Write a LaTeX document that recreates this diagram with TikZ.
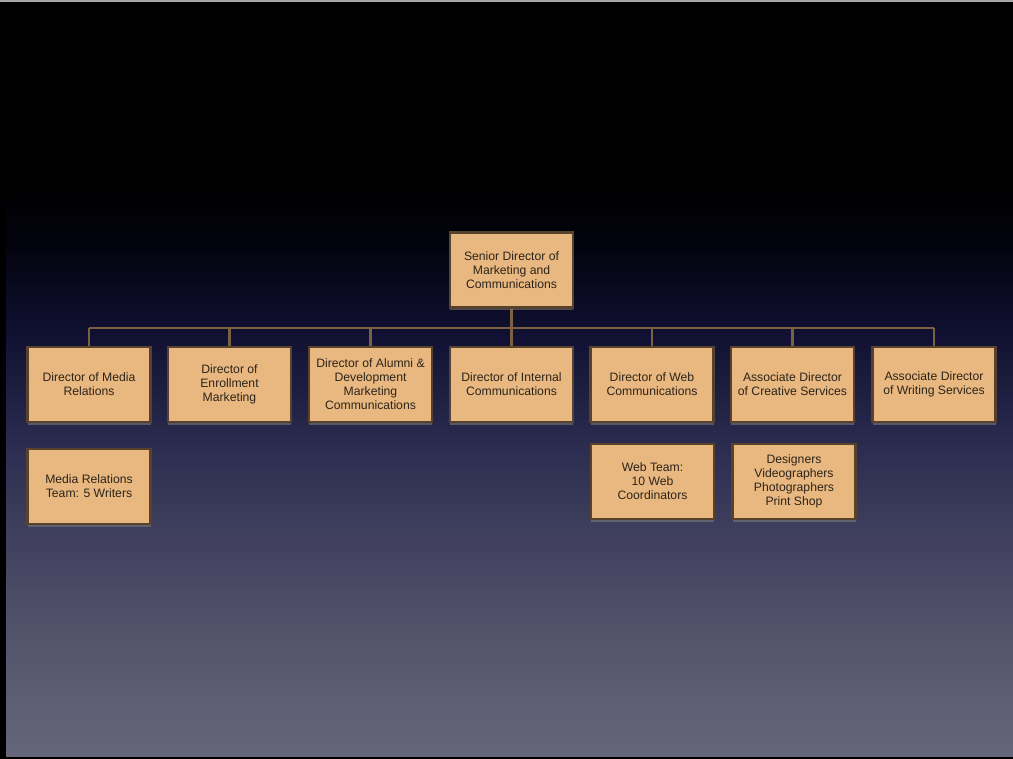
\documentclass[tikz,border=0pt]{standalone}
\usepackage{fontspec}
\setmainfont{Liberation Sans}
\usetikzlibrary{shadows}
\definecolor{boxfill}{RGB}{232,184,128}
\definecolor{boxline}{RGB}{88,66,44}
\definecolor{conn}{RGB}{122,98,64}
\definecolor{txt}{RGB}{45,36,26}
\definecolor{bgA}{RGB}{102,102,122}
\definecolor{bgB}{RGB}{78,78,104}
\definecolor{bgC}{RGB}{46,46,82}
\definecolor{bgD}{RGB}{16,16,50}
\definecolor{bgE}{RGB}{3,3,14}
\pgfdeclareverticalshading{slidebg}{100bp}{color(0bp)=(bgA); color(25bp)=(bgA); color(35bp)=(bgB); color(45bp)=(bgC); color(53bp)=(bgD); color(59bp)=(bgE); color(63bp)=(black); color(100bp)=(black)}
\pgfdeclarelayer{back}
\pgfdeclarelayer{lines}
\pgfsetlayers{back,lines,main}
\tikzset{
  orgbox/.style={draw=boxline, line width=2.4pt, fill=boxfill, text=txt,
    minimum width=123pt, minimum height=75pt, inner sep=2pt, align=center,
    font=\fontsize{12.2}{14}\selectfont,
    drop shadow={opacity=0.55, shadow xshift=0pt, shadow yshift=-3pt}},
  connector/.style={draw=conn, line width=2.8pt}
}
\begin{document}
\begin{tikzpicture}[x=1pt,y=-1pt]
\begin{pgfonlayer}{back}
\fill[black] (0,0) rectangle (1013,759);
\shade[shading=slidebg] (6,2) rectangle (1013,756);
\fill[gray!70] (0,0) rectangle (1013,1.6);
\end{pgfonlayer}
\useasboundingbox (0,0) rectangle (1013,759);

\node[orgbox] (sen) at (511.5,270) {Senior Director of\\Marketing and\\Communications};

\node[orgbox] (c1) at (89,384.5) {Director of Media\\Relations};
\node[orgbox] (c2) at (229.5,384.5) {Director of\\Enrollment\\Marketing};
\node[orgbox] (c3) at (370.5,384.5) {Director of Alumni \&\\Development\\Marketing\\Communications};
\node[orgbox] (c4) at (511.5,384.5) {Director of Internal\\Communications};
\node[orgbox] (c5) at (652,384.5) {Director of Web\\Communications};
\node[orgbox] (c6) at (792.5,384.5) {Associate Director\\of Creative Services};
\node[orgbox] (c7) at (934,384.5) {Associate Director\\of Writing Services};

\node[orgbox] (t1) at (89,486.5) {Media Relations\\Team: 5 Writers};
\node[orgbox] (t5) at (652.5,481.5) {Web Team:\\10 Web\\Coordinators};
\node[orgbox] (t6) at (794,481.5) {Designers\\Videographers\\Photographers\\Print Shop};

\coordinate (bus) at (511.5,328);
\begin{pgfonlayer}{lines}
\draw[connector] (sen.south) -- (bus);
\draw[connector] (c1.north |- bus) -- (c7.north |- bus);
\foreach \c in {c1,c2,c3,c4,c5,c6,c7}{
  \draw[connector] (\c.north) -- (\c.north |- bus);
}
\end{pgfonlayer}
\end{tikzpicture}
\end{document}
